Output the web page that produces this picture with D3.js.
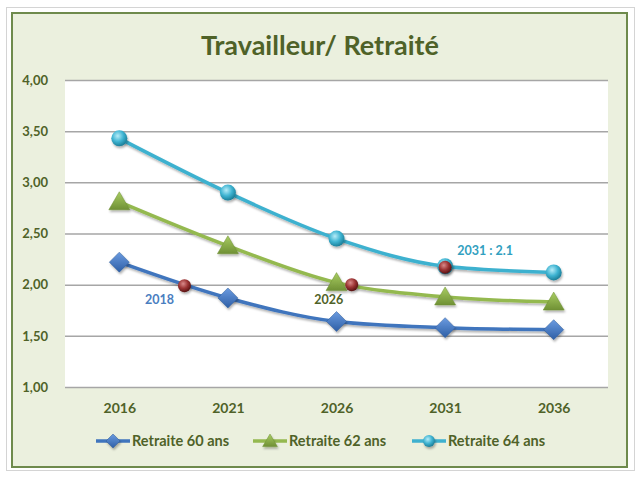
<!DOCTYPE html>
<html>
<head>
<meta charset="utf-8">
<script src="https://cdn.jsdelivr.net/npm/d3@7"></script>
<style>
  body { margin: 0; background: #fff; }
  svg { display: block; font-family: Lato, "Open Sans", sans-serif; }
</style>
</head>
<body>
<div id="vis"></div>
<script>
// data
var years = [2016, 2021, 2026, 2031, 2036];
var retraite60 = [2.22, 1.87, 1.64, 1.58, 1.56];
var retraite62 = [2.81, 2.38, 2.02, 1.88, 1.83];
var retraite64 = [3.43, 2.90, 2.45, 2.18, 2.12];
var seriesNames = ['Retraite 60 ans', 'Retraite 62 ans', 'Retraite 64 ans'];
var yTicks = [1, 1.5, 2, 2.5, 3, 3.5, 4];
// highlighted points (year position, value, label)
var notes = [
  { year: 2019, value: 1.99, label: '2018', series: 0 },
  { year: 2026.7, value: 2.00, label: '2026', series: 1 },
  { year: 2031, value: 2.17, label: '2031 : 2.1', series: 2 }
];

var width = 642, height = 478;
var margin = { left: 65, right: 34, top: 80, bottom: 91 };
var colors = ['#3f75bd', '#94b94f', '#3eb1cf'];
var noteColors = ['#4a7ebf', '#4f6228', '#31a0c0'];
var textColor = '#4f6228';

var svg = d3.select('#vis').append('svg')
  .attr('width', width)
  .attr('height', height);

var defs = svg.append('defs');
function ball(id, light, mid, darkc) {
  var g = defs.append('radialGradient').attr('id', id)
    .attr('cx', '40%').attr('cy', '35%').attr('r', '65%');
  g.append('stop').attr('offset', '0%').attr('stop-color', light);
  g.append('stop').attr('offset', '55%').attr('stop-color', mid);
  g.append('stop').attr('offset', '100%').attr('stop-color', darkc);
}
ball('ballCyan', '#b6ecf8', '#3fb4d2', '#1c7f99');
ball('ballRed', '#d98a8a', '#9c3434', '#5a1414');
var lg = defs.append('linearGradient').attr('id', 'diamond').attr('x1', 0).attr('y1', 0).attr('x2', 0).attr('y2', 1);
lg.append('stop').attr('offset', '0%').attr('stop-color', '#6b9be0');
lg.append('stop').attr('offset', '100%').attr('stop-color', '#2e5fa6');
var tg = defs.append('linearGradient').attr('id', 'tri').attr('x1', 0).attr('y1', 0).attr('x2', 0).attr('y2', 1);
tg.append('stop').attr('offset', '0%').attr('stop-color', '#a9cd63');
tg.append('stop').attr('offset', '100%').attr('stop-color', '#6f9034');
var sh = defs.append('filter').attr('id', 'shadow').attr('x', '-50%').attr('y', '-50%').attr('width', '200%').attr('height', '200%');
sh.append('feDropShadow').attr('dx', 1).attr('dy', 2).attr('stdDeviation', 1.2).attr('flood-color', '#000').attr('flood-opacity', 0.3);

// frame
svg.append('rect')
  .attr('x', 6.5).attr('y', 7.5).attr('width', 628).attr('height', 463)
  .attr('fill', 'none').attr('stroke', '#d4d4d4').attr('stroke-width', 1);
svg.append('rect')
  .attr('x', 12).attr('y', 13).attr('width', 615).attr('height', 454)
  .attr('fill', '#ebf0de').attr('stroke', '#6e8a4c').attr('stroke-width', 2);

svg.append('text')
  .attr('x', 320).attr('y', 55)
  .attr('text-anchor', 'middle')
  .attr('fill', textColor)
  .style('font-size', '27px')
  .style('font-weight', 'bold')
  .text('Travailleur/ Retraité');

var x = d3.scalePoint()
  .domain(years)
  .range([margin.left, width - margin.right])
  .padding(0.5);
var xYear = d3.scaleLinear()
  .domain([years[0], years[years.length - 1]])
  .range([x(years[0]), x(years[years.length - 1])]);
var y = d3.scaleLinear()
  .domain([1, 4])
  .range([height - margin.bottom, margin.top]);

svg.append('rect')
  .attr('x', margin.left).attr('y', margin.top)
  .attr('width', width - margin.left - margin.right)
  .attr('height', height - margin.top - margin.bottom)
  .attr('fill', '#fff');

var yAxis = svg.append('g')
  .attr('transform', 'translate(' + margin.left + ',0)')
  .call(d3.axisLeft(y)
    .tickValues(yTicks)
    .tickSize(-(width - margin.left - margin.right))
    .tickPadding(17)
    .tickFormat(function (d) { return d3.format('.2f')(d).replace('.', ','); }));
yAxis.select('.domain').remove();
yAxis.selectAll('line').attr('stroke', '#a6a6a6').attr('stroke-width', 1.5);
yAxis.selectAll('text')
  .attr('fill', textColor)
  .style('font-size', '13px')
  .style('font-weight', 'bold')
  .style('font-family', 'Lato, sans-serif');

var xAxis = svg.append('g')
  .attr('transform', 'translate(0,' + (height - margin.bottom) + ')')
  .call(d3.axisBottom(x).tickSize(0).tickPadding(16));
xAxis.select('.domain').remove();
xAxis.selectAll('text')
  .attr('fill', textColor)
  .style('font-size', '14px')
  .style('font-weight', 'bold')
  .style('font-family', 'Lato, sans-serif');

var data = [retraite60, retraite62, retraite64];

var line = d3.line()
  .x(function (d, i) { return x(years[i]); })
  .y(function (d) { return y(d); })
  .curve(d3.curveMonotoneX);

svg.selectAll('.series')
  .data(data)
  .enter().append('path')
  .attr('class', 'series')
  .attr('d', line)
  .attr('fill', 'none')
  .attr('stroke', function (d, i) { return colors[i]; })
  .attr('stroke-width', 3.5)
  .attr('filter', 'url(#shadow)');

function marker(g, type, cx, cy, s) {
  if (type === 0) {
    g.append('path')
      .attr('d', 'M' + cx + ',' + (cy - s) + 'L' + (cx + s) + ',' + cy + 'L' + cx + ',' + (cy + s) + 'L' + (cx - s) + ',' + cy + 'Z')
      .attr('fill', 'url(#diamond)').attr('stroke', '#2d5b99').attr('stroke-width', 0.5)
      .attr('filter', 'url(#shadow)');
  } else if (type === 1) {
    g.append('path')
      .attr('d', 'M' + cx + ',' + (cy - s) + 'L' + (cx + s * 1.05) + ',' + (cy + s * 0.8) + 'L' + (cx - s * 1.05) + ',' + (cy + s * 0.8) + 'Z')
      .attr('fill', 'url(#tri)').attr('stroke', '#6f9034').attr('stroke-width', 0.5)
      .attr('filter', 'url(#shadow)');
  } else {
    g.append('circle')
      .attr('cx', cx).attr('cy', cy).attr('r', s)
      .attr('fill', 'url(#ballCyan)')
      .attr('filter', 'url(#shadow)');
  }
}

var sizes = [10, 10, 8];
var markers = svg.append('g');
data.forEach(function (vals, si) {
  vals.forEach(function (v, i) {
    marker(markers, si, x(years[i]), y(v), sizes[si]);
  });
});

// highlighted points
var noteG = svg.append('g');
noteG.selectAll('circle')
  .data(notes)
  .enter().append('circle')
  .attr('cx', function (d) { return xYear(d.year); })
  .attr('cy', function (d) { return y(d.value); })
  .attr('r', 6.5)
  .attr('fill', 'url(#ballRed)')
  .attr('filter', 'url(#shadow)');
var noteOffsets = [[-25, 18], [-23, 19], [40, -12]];
noteG.selectAll('text')
  .data(notes)
  .enter().append('text')
  .attr('x', function (d, i) { return xYear(d.year) + noteOffsets[i][0]; })
  .attr('y', function (d, i) { return y(d.value) + noteOffsets[i][1]; })
  .attr('text-anchor', 'middle')
  .attr('fill', function (d) { return noteColors[d.series]; })
  .style('font-size', '12.5px')
  .style('font-weight', 'bold')
  .text(function (d) { return d.label; });

// legend
var legendX = [96, 253, 412];
var legend = svg.append('g');
seriesNames.forEach(function (name, i) {
  var lx = legendX[i], ly = 441;
  legend.append('line')
    .attr('x1', lx).attr('x2', lx + 34)
    .attr('y1', ly).attr('y2', ly)
    .attr('stroke', colors[i]).attr('stroke-width', 3.5);
  marker(legend, i, lx + 17, ly, i === 2 ? 6 : 7);
  legend.append('text')
    .attr('x', lx + 36).attr('y', ly + 5)
    .attr('fill', textColor)
    .style('font-size', '14.5px')
    .style('font-weight', 'bold')
    .text(name);
});
</script>
</body>
</html>
